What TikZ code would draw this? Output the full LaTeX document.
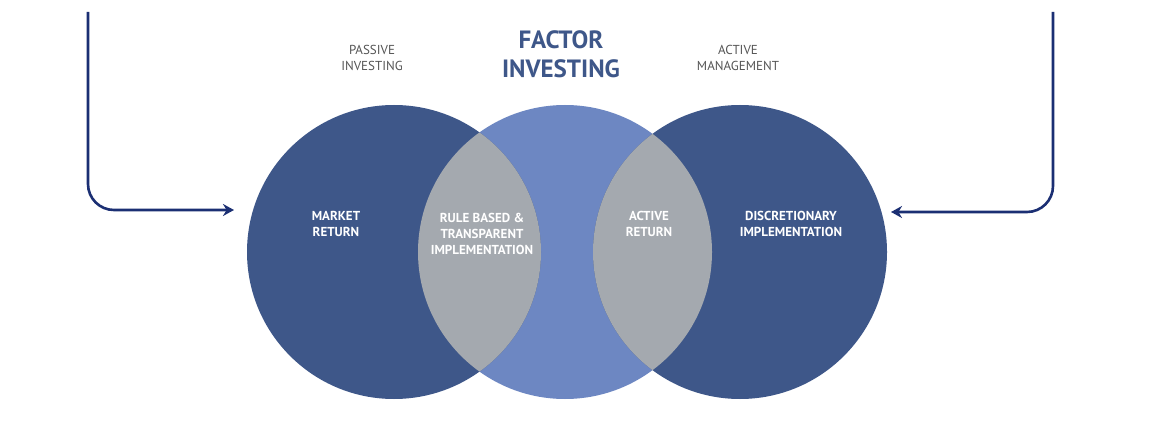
\documentclass[tikz,border=0pt]{standalone}
\usepackage{fontspec}
\setmainfont{PT Sans}
\usetikzlibrary{arrows.meta}
\definecolor{dblue}{HTML}{3E5789}
\definecolor{mblue}{HTML}{6D87C2}
\definecolor{lgrey}{HTML}{A4A9AF}
\definecolor{arr}{HTML}{1B2F73}
\definecolor{tgrey}{HTML}{555555}
\begin{document}
\begin{tikzpicture}[x=1pt,y=-1pt,
 lbl/.style={text=white,font=\bfseries\fontsize{13}{16}\selectfont,align=center},
 captxt/.style={text=tgrey,font=\fontsize{13}{16}\selectfont,align=center},
 arrw/.style={draw=arr,line width=2.6pt,rounded corners=26pt,-{Stealth[length=11pt,width=12pt]}}]
\useasboundingbox (0,0) rectangle (1158,430);
\fill[white] (0,0) rectangle (1158,430);
\def\R{147}
\fill[mblue] (565,252) circle (\R);
\fill[dblue] (394,252) circle (\R);
\fill[dblue] (740,252) circle (\R);
\begin{scope}\clip (394,252) circle (\R); \fill[lgrey] (565,252) circle (\R);\end{scope}
\begin{scope}\clip (740,252) circle (\R); \fill[lgrey] (565,252) circle (\R);\end{scope}
\node[lbl] (mr) at (336,224) {MARKET\\RETURN};
\node[lbl] (rb) at (482,234) {RULE BASED \&\\TRANSPARENT\\IMPLEMENTATION};
\node[lbl] (ar) at (649,224) {ACTIVE\\RETURN};
\node[lbl] (di) at (791,224) {DISCRETIONARY\\IMPLEMENTATION};
\node[text=dblue,font=\bfseries\fontsize{25}{29}\selectfont,align=center] (fi) at (561,54) {FACTOR\\INVESTING};
\node[captxt] (pi) at (372,58) {PASSIVE\\INVESTING};
\node[captxt] (am) at (738,58) {ACTIVE\\MANAGEMENT};
\coordinate (l0) at (88,12);
\coordinate (l1) at (234,210);
\coordinate (r0) at (1053,12);
\coordinate (r1) at (891,212);
\draw[arrw] (l0) |- (l1);
\draw[arrw] (r0) |- (r1);
\end{tikzpicture}
\end{document}
